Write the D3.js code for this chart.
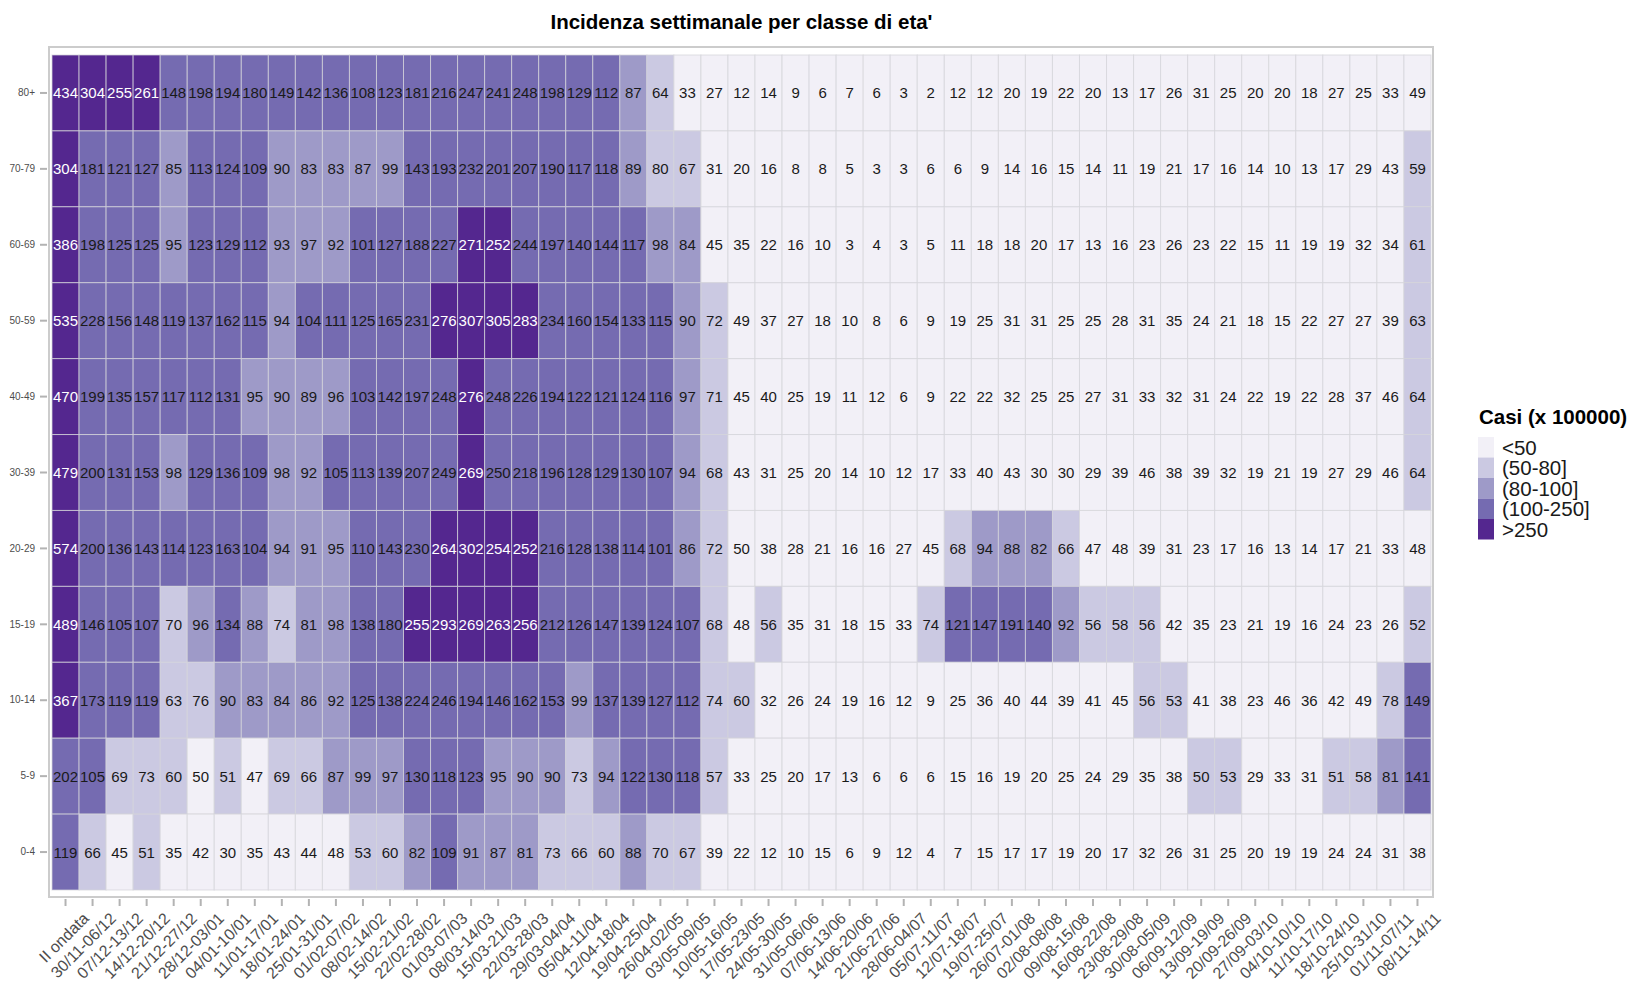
<!DOCTYPE html>
<html>
<head>
<meta charset="utf-8">
<script src="https://cdn.jsdelivr.net/npm/d3@7"></script>
<style>
    body { margin: 0; background: #ffffff; }
    svg { font-family: 'Liberation Sans', Arial, sans-serif; }
</style>
</head>
<body>
<div id="d3Stage"></div>
<script>
'use strict';

// age classes, top row first
var ageClasses = ['80+', '70-79', '60-69', '50-59', '40-49', '30-39', '20-29', '15-19', '10-14', '5-9', '0-4'];

var weeks = ['II ondata', '30/11-06/12', '07/12-13/12', '14/12-20/12', '21/12-27/12', '28/12-03/01',
    '04/01-10/01', '11/01-17/01', '18/01-24/01', '25/01-31/01', '01/02-07/02', '08/02-14/02',
    '15/02-21/02', '22/02-28/02', '01/03-07/03', '08/03-14/03', '15/03-21/03', '22/03-28/03',
    '29/03-04/04', '05/04-11/04', '12/04-18/04', '19/04-25/04', '26/04-02/05', '03/05-09/05',
    '10/05-16/05', '17/05-23/05', '24/05-30/05', '31/05-06/06', '07/06-13/06', '14/06-20/06',
    '21/06-27/06', '28/06-04/07', '05/07-11/07', '12/07-18/07', '19/07-25/07', '26/07-01/08',
    '02/08-08/08', '09/08-15/08', '16/08-22/08', '23/08-29/08', '30/08-05/09', '06/09-12/09',
    '13/09-19/09', '20/09-26/09', '27/09-03/10', '04/10-10/10', '11/10-17/10', '18/10-24/10',
    '25/10-31/10', '01/11-07/11', '08/11-14/11'];

// weekly incidence per 100000, one array per age class
var inc80 = [434, 304, 255, 261, 148, 198, 194, 180, 149, 142, 136, 108, 123, 181, 216, 247, 241, 248, 198, 129, 112, 87, 64, 33, 27,
    12, 14, 9, 6, 7, 6, 3, 2, 12, 12, 20, 19, 22, 20, 13, 17, 26, 31, 25, 20, 20, 18, 27, 25, 33, 49];
var inc70 = [304, 181, 121, 127, 85, 113, 124, 109, 90, 83, 83, 87, 99, 143, 193, 232, 201, 207, 190, 117, 118, 89, 80, 67, 31,
    20, 16, 8, 8, 5, 3, 3, 6, 6, 9, 14, 16, 15, 14, 11, 19, 21, 17, 16, 14, 10, 13, 17, 29, 43, 59];
var inc60 = [386, 198, 125, 125, 95, 123, 129, 112, 93, 97, 92, 101, 127, 188, 227, 271, 252, 244, 197, 140, 144, 117, 98, 84, 45,
    35, 22, 16, 10, 3, 4, 3, 5, 11, 18, 18, 20, 17, 13, 16, 23, 26, 23, 22, 15, 11, 19, 19, 32, 34, 61];
var inc50 = [535, 228, 156, 148, 119, 137, 162, 115, 94, 104, 111, 125, 165, 231, 276, 307, 305, 283, 234, 160, 154, 133, 115, 90, 72,
    49, 37, 27, 18, 10, 8, 6, 9, 19, 25, 31, 31, 25, 25, 28, 31, 35, 24, 21, 18, 15, 22, 27, 27, 39, 63];
var inc40 = [470, 199, 135, 157, 117, 112, 131, 95, 90, 89, 96, 103, 142, 197, 248, 276, 248, 226, 194, 122, 121, 124, 116, 97, 71,
    45, 40, 25, 19, 11, 12, 6, 9, 22, 22, 32, 25, 25, 27, 31, 33, 32, 31, 24, 22, 19, 22, 28, 37, 46, 64];
var inc30 = [479, 200, 131, 153, 98, 129, 136, 109, 98, 92, 105, 113, 139, 207, 249, 269, 250, 218, 196, 128, 129, 130, 107, 94, 68,
    43, 31, 25, 20, 14, 10, 12, 17, 33, 40, 43, 30, 30, 29, 39, 46, 38, 39, 32, 19, 21, 19, 27, 29, 46, 64];
var inc20 = [574, 200, 136, 143, 114, 123, 163, 104, 94, 91, 95, 110, 143, 230, 264, 302, 254, 252, 216, 128, 138, 114, 101, 86, 72,
    49.6, 38, 28, 21, 16, 16, 27, 45, 68, 94, 88, 82, 66, 47, 48, 39, 31, 23, 17, 16, 13, 14, 17, 21, 33, 48];
var inc15 = [489, 146, 105, 107, 70, 96, 134, 88, 74, 81, 98, 138, 180, 255, 293, 269, 263, 256, 212, 126, 147, 139, 124, 107, 68,
    48, 56, 35, 31, 18, 15, 33, 74, 121, 147, 191, 140, 92, 56, 58, 56, 42, 35, 23, 21, 19, 16, 24, 23, 26, 52];
var inc10 = [367, 173, 119, 119, 63, 76, 90, 83, 84, 86, 92, 125, 138, 224, 246, 194, 146, 162, 153, 99, 137, 139, 127, 112, 74,
    60, 32, 26, 24, 19, 16, 12, 9, 25, 36, 40, 44, 39, 41, 45, 56, 53, 41, 38, 23, 46, 36, 42, 49, 78, 149];
var inc5 = [202, 105, 69, 73, 60, 49.6, 51, 47, 69, 66, 87, 99, 97, 130, 118, 123, 95, 90, 90, 73, 94, 122, 130, 118, 57,
    33, 25, 20, 17, 13, 6, 6, 6, 15, 16, 19, 20, 25, 24, 29, 35, 38, 50.4, 53, 29, 33, 31, 51, 58, 81, 141];
var inc0 = [119, 66, 45, 51, 35, 42, 30, 35, 43, 44, 48, 53, 60, 82, 109, 91, 87, 81, 73, 66, 60, 88, 70, 67, 39,
    22, 12, 10, 15, 6, 9, 12, 4, 7, 15, 17, 17, 19, 20, 17, 32, 26, 31, 25, 20, 19, 19, 24, 24, 31, 38];

var incidence = [inc80, inc70, inc60, inc50, inc40, inc30, inc20, inc15, inc10, inc5, inc0];

var classLabels = ['<50', '(50-80]', '(80-100]', '(100-250]', '>250'];
var classColors = ['#f2f0f7', '#cbc9e2', '#9e9ac8', '#756bb1', '#54278f'];

var svgWidth = 1630, svgHeight = 981;
var panel = {left: 52, right: 1431, top: 55, bottom: 890};

function ClassOf(v) {
    if (v < 50) return 0;
    if (v <= 80) return 1;
    if (v <= 100) return 2;
    if (v <= 250) return 3;
    return 4;
}

function DrawChart() {
    var svg = d3.select('div#d3Stage').append('svg')
        .attr('width', svgWidth)
        .attr('height', svgHeight);

    var x = d3.scaleBand().domain(weeks).range([panel.left, panel.right]);
    var y = d3.scaleBand().domain(ageClasses).range([panel.top, panel.bottom]);

    var cells = [];
    ageClasses.forEach(function(age, i) {
        incidence[i].forEach(function(v, j) {
            cells.push({'age': age, 'week': weeks[j], 'value': v, 'cls': ClassOf(v)});
        });
    });

    // panel frame
    svg.append('rect')
        .attr('x', panel.left - 3)
        .attr('y', panel.top - 8)
        .attr('width', panel.right - panel.left + 5)
        .attr('height', panel.bottom - panel.top + 15)
        .style('fill', '#ffffff')
        .style('stroke', '#cccccc')
        .style('stroke-width', 2);

    var gCells = svg.append('g').classed('cells', true);
    gCells.selectAll('rect.tile').data(cells).enter()
        .append('rect')
            .classed('tile', true)
            .attr('x', function(d) { return x(d.week); })
            .attr('y', function(d) { return y(d.age); })
            .attr('width', x.bandwidth())
            .attr('height', y.bandwidth())
            .style('fill', function(d) { return classColors[d.cls]; })
            .style('stroke', '#d4d4da')
            .style('stroke-opacity', 0.75)
            .style('stroke-width', 1);

    gCells.selectAll('text.val').data(cells).enter()
        .append('text')
            .classed('val', true)
            .attr('x', function(d) { return x(d.week) + x.bandwidth() / 2; })
            .attr('y', function(d) { return y(d.age) + y.bandwidth() / 2; })
            .attr('text-anchor', 'middle')
            .attr('dominant-baseline', 'central')
            .style('font-size', '15px')
            .style('fill', function(d) { return d.cls === 4 ? '#ffffff' : '#1a1a1a'; })
            .text(function(d) { return Math.round(d.value); });

    // y axis
    var yAxis = svg.append('g')
        .attr('transform', 'translate(' + (panel.left - 5) + ',0)')
        .call(d3.axisLeft(y).tickSize(7).tickPadding(5));
    yAxis.select('.domain').remove();
    yAxis.selectAll('line').style('stroke', '#b3b3b3').style('stroke-width', 2);
    yAxis.selectAll('text').style('font-size', '10px').style('fill', '#4d4d4d')
        .style('font-family', "'Liberation Sans', Arial, sans-serif");

    // x axis
    var xAxis = svg.append('g')
        .attr('transform', 'translate(0,' + (panel.bottom + 9) + ')')
        .call(d3.axisBottom(x).tickSize(7).tickPadding(4));
    xAxis.select('.domain').remove();
    xAxis.selectAll('line').style('stroke', '#b3b3b3').style('stroke-width', 2);
    xAxis.selectAll('text')
        .style('font-size', '16px')
        .style('fill', '#4d4d4d')
        .style('font-family', "'Liberation Sans', Arial, sans-serif")
        .attr('text-anchor', 'end')
        .attr('dy', '0.85em')
        .attr('transform', 'translate(7,3) rotate(-45)');

    // title
    svg.append('text')
        .attr('x', (panel.left + panel.right) / 2)
        .attr('y', 29)
        .attr('text-anchor', 'middle')
        .style('font-size', '20.5px')
        .style('font-weight', 'bold')
        .style('fill', '#000000')
        .text("Incidenza settimanale per classe di eta'");

    // legend
    var gLegend = svg.append('g').attr('transform', 'translate(1478,0)');
    gLegend.append('text')
        .attr('x', 1)
        .attr('y', 424)
        .style('font-size', '20.5px')
        .style('font-weight', 'bold')
        .text('Casi (x 100000)');
    var keyH = 20.5;
    gLegend.selectAll('rect.key').data(classLabels).enter()
        .append('rect')
            .classed('key', true)
            .attr('x', 0)
            .attr('y', function(d, i) { return 437 + i * keyH; })
            .attr('width', 16)
            .attr('height', keyH)
            .style('fill', function(d, i) { return classColors[i]; });
    gLegend.selectAll('text.key').data(classLabels).enter()
        .append('text')
            .classed('key', true)
            .attr('x', 24)
            .attr('y', function(d, i) { return 437 + i * keyH + keyH / 2; })
            .attr('dominant-baseline', 'central')
            .style('font-size', '20.5px')
            .style('fill', '#1a1a1a')
            .text(function(d) { return d; });
}

window.onload = DrawChart;
</script>
</body>
</html>
